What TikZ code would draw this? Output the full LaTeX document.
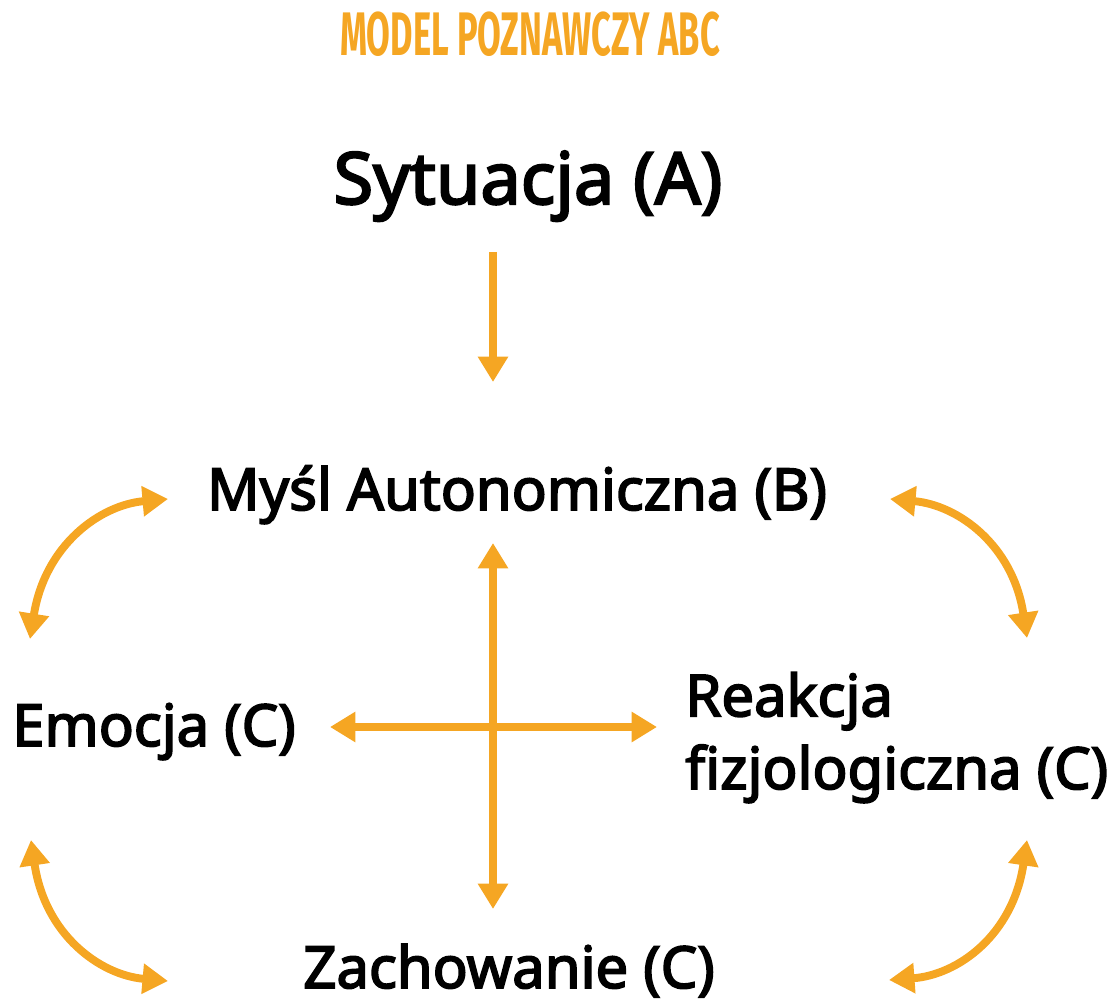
\documentclass[tikz,border=0pt]{standalone}
\usepackage{fontspec}
\usepackage{graphicx}
\usetikzlibrary{arrows.meta}
\newfontfamily\labelfont{Noto Sans}[FakeBold=3]
\newfontfamily\titlefont{Fira Sans}
\definecolor{abcorange}{RGB}{245,166,35}

\begin{document}
\begin{tikzpicture}[x=0.02cm, y=-0.02cm,
		% Style des étiquettes
		box/.style={
			font=\labelfont\fontsize{33}{41.4}\selectfont,
			text=black,
			inner sep=0pt,
			align=left
		},
		% Style des flèches
		link/.style={
			draw=abcorange,
			line width=4.5pt,
			-{Triangle[width=16.5pt,length=14.5pt]}
		},
		twoway/.style={
			link,
			{Triangle[width=16.5pt,length=14.5pt]}-{Triangle[width=16.5pt,length=14.5pt]}
		}
		]
		\useasboundingbox (0,0) rectangle (1116,1000);
		
		% --- TITRE ---
		\node[text=abcorange, inner sep=0pt, anchor=base] (title) at (530,56)
		{\scalebox{0.56}[1]{\titlefont\bfseries\fontsize{35}{40}\selectfont MODEL POZNAWCZY ABC}};
		
		% --- DÉFINITION DES BLOCS ---
		\node[box, font=\labelfont\fontsize{41}{48}\selectfont, anchor=base] (sit) at (528,204) {Sytuacja (A)};
		\node[box, anchor=base] (mysl) at (517,510) {Myśl Autonomiczna (B)};
		\node[box, anchor=base west] (emo) at (12,746) {Emocja (C)};
		\node[box, anchor=base west] (reak) at (685,789) {Reakcja\\fizjologiczna (C)};
		\node[box, anchor=base west] (zach) at (303,988) {Zachowanie (C)};
		
		% --- COORDONNÉES DES FLÈCHES ---
		\coordinate (sit-out) at (493,252);
		\coordinate (mysl-in) at (493,382);
		\coordinate (up) at (493,543);
		\coordinate (down) at (493,909);
		\coordinate (left) at (330,727);
		\coordinate (right) at (657,727);
		
		\coordinate (mysl-w) at (168,499);
		\coordinate (emo-n) at (30,639);
		\coordinate (emo-s) at (31,840);
		\coordinate (zach-w) at (168,981);
		\coordinate (mysl-e) at (890,499);
		\coordinate (reak-n) at (1027,638);
		\coordinate (reak-s) at (1027,840);
		\coordinate (zach-e) at (889,980);
		
		% --- FLÈCHES ---
		\draw[link] (sit-out) -- (mysl-in);
		\draw[twoway] (up) -- (down);
		\draw[twoway] (left) -- (right);
		
		\draw[twoway] (emo-n) .. controls (45,545) and (100,505) .. (mysl-w);
		\draw[twoway] (emo-s) .. controls (45,935) and (100,975) .. (zach-w);
		\draw[twoway] (mysl-e) .. controls (958,505) and (1013,545) .. (reak-n);
		\draw[twoway] (reak-s) .. controls (1013,935) and (958,975) .. (zach-e);
		
	\end{tikzpicture}
\end{document}
